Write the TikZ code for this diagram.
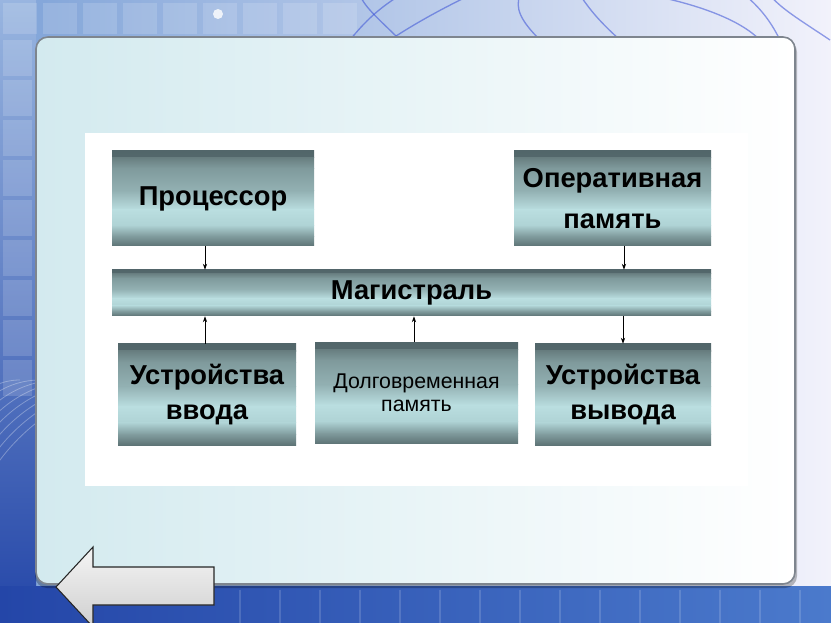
\documentclass[tikz,border=0pt]{standalone}
\usepackage{fontspec}
\setmainfont{Liberation Sans}
\usetikzlibrary{arrows.meta,calc}
\definecolor{bxa}{HTML}{5E7476}
\definecolor{bxb}{HTML}{7F9A9C}
\definecolor{bxc}{HTML}{AFD3D5}
\definecolor{bxd}{HTML}{BADEE0}
\definecolor{bxf}{HTML}{93B1B3}
\definecolor{bxg}{HTML}{7F9A9C}
\definecolor{bxh}{HTML}{687E80}
\definecolor{bxi}{HTML}{52666A}
\definecolor{bgL}{HTML}{7FA3D8}
\definecolor{bgR}{HTML}{F2F2FB}
\definecolor{panelL}{HTML}{D3EAEF}
\definecolor{panelEdge}{HTML}{7E858E}
\definecolor{deepblue}{HTML}{2446A8}
\definecolor{midblue}{HTML}{4B7ACC}
\definecolor{waveblue}{HTML}{3B52D6}
\newcommand\bband[4]{\shade[top color=#3, bottom color=#4]
  ($(path picture bounding box.north west)!#1!(path picture bounding box.south west)$)
  rectangle ($(path picture bounding box.north east)!#2!(path picture bounding box.south east)$);}
\tikzset{
  box/.style={inner sep=2pt, align=center, text=black,
    font=\fontsize{20.5}{30.75}\selectfont\bfseries,
    path picture={
      \bband{0}{0.07}{bxi}{bxh}
      \bband{0.069}{0.18}{bxh}{bxg}
      \bband{0.179}{0.42}{bxg}{bxf}
      \bband{0.419}{0.62}{bxf}{bxd}
      \bband{0.619}{0.78}{bxd}{bxc}
      \bband{0.779}{0.9}{bxc}{bxb}
      \bband{0.899}{1}{bxb}{bxa}
    }},
  smallbox/.style={box, font=\fontsize{16}{17.5}\selectfont},
  conn/.style={draw=black, line width=0.6pt, -{Stealth[length=4.5pt,width=3.2pt]}},
  wave/.style={draw=waveblue, line width=1pt, opacity=0.55},
  tile/.style={fill=white, opacity=0.15}
}
\begin{document}
\begin{tikzpicture}[x=0.75pt,y=-0.75pt]
\useasboundingbox (0,0) rectangle (831,623);
\clip (0,0) rectangle (831,623);
% background
\shade[left color=bgL, right color=bgR] (0,0) rectangle (831,623);
\shade[top color=bgL!80!white, bottom color=deepblue] (0,0) rectangle (36,623);
\shade[left color=deepblue, right color=midblue] (0,586) rectangle (831,623);
\foreach \x in {0,40,...,320} {\fill[tile] (\x+3,3) rectangle (\x+37,34);}
\foreach \y in {40,80,...,360} {\fill[tile] (3,\y) rectangle (32,\y+36);}
\foreach \x in {240,280,...,800} {\draw[white, opacity=0.15, line width=0.8pt] (\x,590) -- (\x,623);}
\foreach \r in {60,80,...,200} {\draw[white, opacity=0.3, line width=0.6pt] (-40,\r+380) arc[start angle=180, end angle=90, radius=\r*0.75pt];}
% waves at the top
\draw[wave] (350,40) .. controls (370,15) and (385,5) .. (400,-5);
\draw[wave] (390,40) .. controls (420,20) and (450,5) .. (470,-5);
\draw[wave] (400,40) .. controls (380,20) and (365,8) .. (360,-5);
\draw[wave] (760,40) .. controls (740,20) and (700,5) .. (650,-5);
\draw[wave] (780,40) .. controls (770,20) and (760,8) .. (745,-5);
\draw[wave] (830,40) .. controls (800,20) and (780,8) .. (770,-5);
\draw[wave] (540,40) .. controls (520,20) and (515,8) .. (520,-5);
\draw[wave] (620,40) .. controls (600,22) and (590,10) .. (580,-5);
\fill[white, opacity=0.8] (218,14) circle[radius=5];
% panel
\fill[black, opacity=0.25, rounded corners=9pt] (35,40) rectangle (797,588);
\shade[rounded corners=9pt, left color=panelL, right color=white, draw=panelEdge, line width=1.2pt] (36,37) rectangle (795,584);
\fill[white] (85,133) rectangle (748,486);
% boxes
\node[box, minimum width=151.5pt, minimum height=71.25pt] (proc) at (213,198.5) {Процессор};
\node[box, minimum width=147.75pt, minimum height=71.25pt] (ram) at (612.5,198.5) {Оперативная\\память};
\node[box, minimum width=449.25pt, minimum height=34.5pt] (bus) at (411.5,293) {Магистраль};
\node[box, font=\fontsize{20.5}{26}\selectfont\bfseries, minimum width=133.5pt, minimum height=75.75pt] (inp) at (207,394.5) {Устройства\\ввода};
\node[smallbox, minimum width=152.25pt, minimum height=75.75pt] (disk) at (416.5,393) {Долговременная\\память};
\node[box, font=\fontsize{20.5}{26}\selectfont\bfseries, minimum width=132pt, minimum height=75.75pt] (outp) at (623,394.5) {Устройства\\вывода};
% connectors
\draw[conn] ([xshift=-6pt]proc.south) -- ([xshift=-6pt]proc.south |- bus.north);
\draw[conn] ([xshift=8.6pt]ram.south) -- ([xshift=8.6pt]ram.south |- bus.north);
\draw[conn] ([xshift=-1.5pt]inp.north) -- ([xshift=-1.5pt]inp.north |- bus.south);
\draw[conn] ([xshift=-1.9pt]disk.north) -- ([xshift=-1.9pt]disk.north |- bus.south);
\draw[conn] (outp.north |- bus.south) -- (outp.north);
% back arrow button
\shade[top color=gray!8, bottom color=gray!38, draw=black!85, line width=0.8pt]
  (56,587) -- (93,547) -- (93,567) -- (214,567) -- (214,605) -- (93,605) -- (93,627) -- cycle;
\end{tikzpicture}
\end{document}
